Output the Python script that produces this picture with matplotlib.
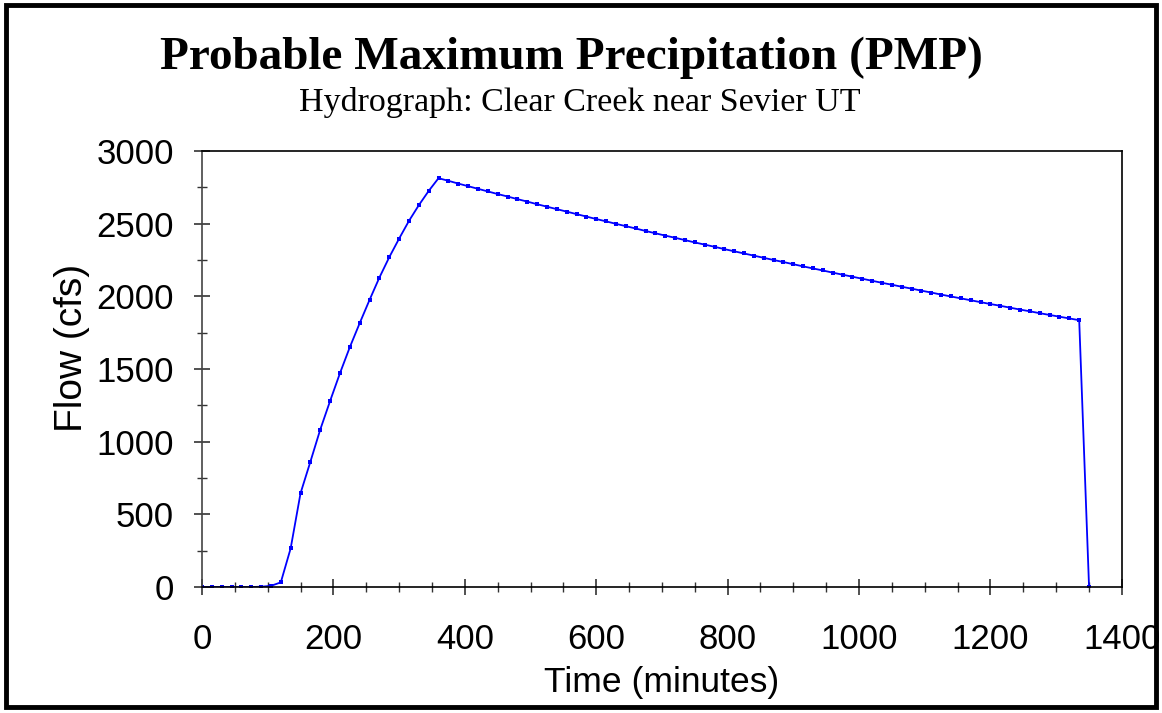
import matplotlib
matplotlib.use("Agg")
import matplotlib.pyplot as plt
from matplotlib.patches import Rectangle
from matplotlib.ticker import MultipleLocator

time_min = list(range(0, 1351, 15))
flow_cfs = [
    0, 0, 0, 0, 0, 0, 2, 8, 32, 266, 645, 862, 1083, 1280, 1471, 1650,
    1815, 1975, 2129, 2269, 2397, 2519, 2627, 2725, 2813,
    2795, 2776, 2758, 2740, 2722, 2704, 2687, 2669, 2652, 2634, 2617,
    2600, 2583, 2566, 2549, 2532, 2516, 2499, 2483, 2467, 2450,
    2434, 2418, 2403, 2387, 2371, 2356, 2341, 2325, 2310, 2295,
    2280, 2265, 2250, 2236, 2221, 2206, 2192, 2178, 2163, 2149,
    2135, 2121, 2107, 2093, 2080, 2066, 2053, 2039, 2026, 2012,
    1999, 1986, 1973, 1960, 1947, 1935, 1922, 1909, 1897, 1884,
    1872, 1860, 1848, 1836, 0,
]

title = "Probable Maximum Precipitation (PMP)"
subtitle = "Hydrograph: Clear Creek near Sevier UT"
x_label = "Time (minutes)"
y_label = "Flow (cfs)"

fig = plt.figure(figsize=(11.62, 7.13), dpi=100)
fig.patch.set_facecolor("white")
fig.patches.append(Rectangle((0.005, 0.008), 0.99, 0.985, transform=fig.transFigure,
                             fill=False, edgecolor="black", linewidth=3.5))

ax = fig.add_axes([0.1738, 0.1767, 0.7917, 0.6115])
ax.plot(time_min, flow_cfs, color="#0000ff", linewidth=1.3, marker="s",
        markersize=2.6, markeredgewidth=0)
ax.set_xlim(0, 1400)
ax.set_ylim(0, 3000)
ax.xaxis.set_major_locator(MultipleLocator(200))
ax.xaxis.set_minor_locator(MultipleLocator(50))
ax.yaxis.set_major_locator(MultipleLocator(500))
ax.yaxis.set_minor_locator(MultipleLocator(250))

font = "Liberation Sans"
fs = 25
ax.tick_params(axis="both", which="major", direction="inout", length=12, width=1.2,
               labelsize=fs, color="#333333")
ax.tick_params(axis="both", which="minor", direction="inout", length=7, width=1.0,
               color="#333333")
ax.tick_params(axis="y", which="major", pad=14)
ax.tick_params(axis="x", which="major", pad=20)
for lab in ax.get_xticklabels() + ax.get_yticklabels():
    lab.set_fontfamily(font)
for sp in ax.spines.values():
    sp.set_color("black")
    sp.set_linewidth(1.2)
ax.spines["left"].set_color("#444444")

ax.set_xlabel(x_label, fontsize=25.5, family=font, labelpad=7)
ax.set_ylabel(y_label, fontsize=28, family=font)
ax.yaxis.set_label_coords(-0.122, 0.548)

fig.text(0.492, 0.919, title, ha="center", va="center", family="Liberation Serif",
         fontweight="bold", fontsize=34)
fig.text(0.499, 0.856, subtitle, ha="center", va="center", family="Liberation Serif",
         fontsize=24.5)

fig.savefig("out.png", dpi=100)
